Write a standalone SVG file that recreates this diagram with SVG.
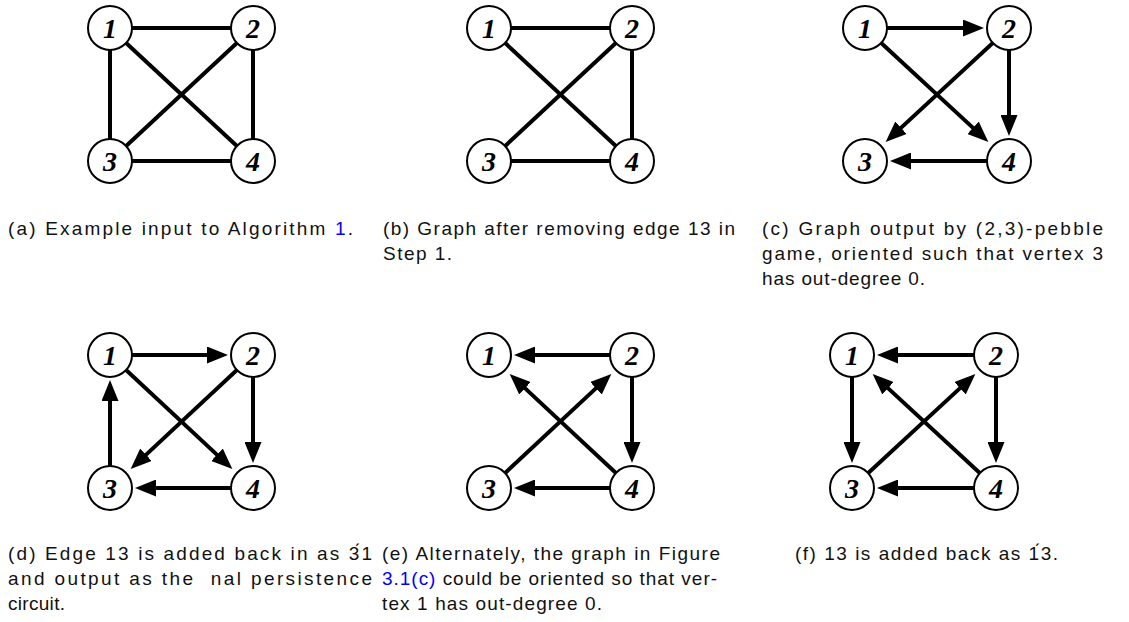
<svg xmlns="http://www.w3.org/2000/svg" width="1129" height="622" viewBox="0 0 1129 622">
<defs>
<marker id="ah" markerUnits="userSpaceOnUse" markerWidth="21" markerHeight="17" refX="13" refY="8.5" orient="auto">
<path d="M0,0 L21,8.5 L0,17 z" fill="#000"/>
</marker>
<style>
.e{stroke:#000;stroke-width:4;fill:none}
.a{stroke:#000;stroke-width:4;fill:none;marker-end:url(#ah)}
.n circle{fill:#fff;stroke:#000;stroke-width:2}
.n text{font-family:"Liberation Serif","Times New Roman",serif;font-weight:bold;font-style:italic;font-size:28px;text-anchor:middle;fill:#000}
.cap{font-family:"Liberation Sans",Arial,sans-serif;font-size:19px;fill:#111;white-space:pre}
.lk{fill:#0000ff}
</style>
</defs>
<rect width="1129" height="622" fill="#fff"/>

<g id="connectors">
<!-- (a) -->
<line class="e" x1="110" y1="28" x2="253" y2="28"/>
<line class="e" x1="110" y1="28" x2="110" y2="161"/>
<line class="e" x1="110" y1="28" x2="253" y2="161"/>
<line class="e" x1="253" y1="28" x2="110" y2="161"/>
<line class="e" x1="253" y1="28" x2="253" y2="161"/>
<line class="e" x1="110" y1="161" x2="253" y2="161"/>
<!-- (b) -->
<line class="e" x1="489" y1="28" x2="632" y2="28"/>
<line class="e" x1="489" y1="28" x2="632" y2="161"/>
<line class="e" x1="632" y1="28" x2="489" y2="161"/>
<line class="e" x1="632" y1="28" x2="632" y2="161"/>
<line class="e" x1="489" y1="161" x2="632" y2="161"/>
<!-- (c) -->
<line class="a" x1="865" y1="28" x2="976" y2="28"/>
<line class="a" x1="865" y1="28" x2="982.5" y2="136.6"/>
<line class="a" x1="1009" y1="28" x2="891.5" y2="136.6"/>
<line class="a" x1="1009" y1="28" x2="1009" y2="128"/>
<line class="a" x1="1009" y1="161" x2="898" y2="161"/>
<!-- (d) -->
<line class="a" x1="110" y1="355" x2="220" y2="355"/>
<line class="a" x1="110" y1="355" x2="226.5" y2="463.6"/>
<line class="a" x1="253" y1="355" x2="136.5" y2="463.6"/>
<line class="a" x1="253" y1="355" x2="253" y2="455"/>
<line class="a" x1="253" y1="488" x2="143" y2="488"/>
<line class="a" x1="110" y1="488" x2="110" y2="388"/>
<!-- (e) -->
<line class="a" x1="632" y1="355" x2="522" y2="355"/>
<line class="a" x1="632" y1="488" x2="515.5" y2="379.4"/>
<line class="a" x1="489" y1="488" x2="605.5" y2="379.4"/>
<line class="a" x1="632" y1="355" x2="632" y2="455"/>
<line class="a" x1="632" y1="488" x2="522" y2="488"/>
<!-- (f) -->
<line class="a" x1="996" y1="355" x2="885" y2="355"/>
<line class="a" x1="852" y1="355" x2="852" y2="455"/>
<line class="a" x1="996" y1="488" x2="878.5" y2="379.4"/>
<line class="a" x1="852" y1="488" x2="969.5" y2="379.4"/>
<line class="a" x1="996" y1="355" x2="996" y2="455"/>
<line class="a" x1="996" y1="488" x2="885" y2="488"/>
</g>

<g id="a-n1" class="n"><circle cx="110" cy="28" r="22"/><text x="110" y="38">1</text></g>
<g id="a-n2" class="n"><circle cx="253" cy="28" r="22"/><text x="253" y="38">2</text></g>
<g id="a-n3" class="n"><circle cx="110" cy="161" r="22"/><text x="110" y="171">3</text></g>
<g id="a-n4" class="n"><circle cx="253" cy="161" r="22"/><text x="253" y="171">4</text></g>

<g id="b-n1" class="n"><circle cx="489" cy="28" r="22"/><text x="489" y="38">1</text></g>
<g id="b-n2" class="n"><circle cx="632" cy="28" r="22"/><text x="632" y="38">2</text></g>
<g id="b-n3" class="n"><circle cx="489" cy="161" r="22"/><text x="489" y="171">3</text></g>
<g id="b-n4" class="n"><circle cx="632" cy="161" r="22"/><text x="632" y="171">4</text></g>

<g id="c-n1" class="n"><circle cx="865" cy="28" r="22"/><text x="865" y="38">1</text></g>
<g id="c-n2" class="n"><circle cx="1009" cy="28" r="22"/><text x="1009" y="38">2</text></g>
<g id="c-n3" class="n"><circle cx="865" cy="161" r="22"/><text x="865" y="171">3</text></g>
<g id="c-n4" class="n"><circle cx="1009" cy="161" r="22"/><text x="1009" y="171">4</text></g>

<g id="d-n1" class="n"><circle cx="110" cy="355" r="22"/><text x="110" y="365">1</text></g>
<g id="d-n2" class="n"><circle cx="253" cy="355" r="22"/><text x="253" y="365">2</text></g>
<g id="d-n3" class="n"><circle cx="110" cy="488" r="22"/><text x="110" y="498">3</text></g>
<g id="d-n4" class="n"><circle cx="253" cy="488" r="22"/><text x="253" y="498">4</text></g>

<g id="e-n1" class="n"><circle cx="489" cy="355" r="22"/><text x="489" y="365">1</text></g>
<g id="e-n2" class="n"><circle cx="632" cy="355" r="22"/><text x="632" y="365">2</text></g>
<g id="e-n3" class="n"><circle cx="489" cy="488" r="22"/><text x="489" y="498">3</text></g>
<g id="e-n4" class="n"><circle cx="632" cy="488" r="22"/><text x="632" y="498">4</text></g>

<g id="f-n1" class="n"><circle cx="852" cy="355" r="22"/><text x="852" y="365">1</text></g>
<g id="f-n2" class="n"><circle cx="996" cy="355" r="22"/><text x="996" y="365">2</text></g>
<g id="f-n3" class="n"><circle cx="852" cy="488" r="22"/><text x="852" y="498">3</text></g>
<g id="f-n4" class="n"><circle cx="996" cy="488" r="22"/><text x="996" y="498">4</text></g>

<g id="captions">
<text class="cap" x="8" y="235" textLength="345" lengthAdjust="spacing">(a) Example input to Algorithm <tspan class="lk">1</tspan>.</text>

<text class="cap" x="383" y="235" textLength="352" lengthAdjust="spacing">(b) Graph after removing edge 13 in</text>
<text class="cap" x="383" y="260" textLength="69" lengthAdjust="spacing">Step 1.</text>

<text class="cap" x="762" y="235" textLength="341" lengthAdjust="spacing">(c) Graph output by (2,3)-pebble</text>
<text class="cap" x="762" y="260" textLength="341" lengthAdjust="spacing">game, oriented such that vertex 3</text>
<text class="cap" x="762" y="285" textLength="163" lengthAdjust="spacing">has out-degree 0.</text>

<text class="cap" x="8" y="560" textLength="364" lengthAdjust="spacing">(d) Edge 13 is added back in as 3́1</text>
<text class="cap" x="8" y="585" textLength="364" lengthAdjust="spacing">and output as the  nal persistence</text>
<text class="cap" x="8" y="610" textLength="57" lengthAdjust="spacing">circuit.</text>

<text class="cap" x="382" y="560" textLength="338" lengthAdjust="spacing">(e) Alternately, the graph in Figure</text>
<text class="cap" x="382" y="585" textLength="335" lengthAdjust="spacing"><tspan class="lk">3.1(c)</tspan> could be oriented so that ver-</text>
<text class="cap" x="382" y="610" textLength="220" lengthAdjust="spacing">tex 1 has out-degree 0.</text>

<text class="cap" x="795" y="560" textLength="263" lengthAdjust="spacing">(f) 13 is added back as 1́3.</text>
</g>
</svg>
